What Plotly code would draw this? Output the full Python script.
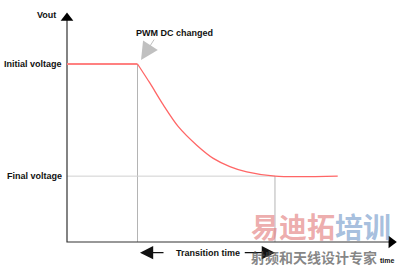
import plotly.graph_objects as go

# ---- data (arbitrary units: time, voltage) ----
t_change = 1.0          # PWM duty cycle change
t_settle = 2.95         # end of transition
t_end = 3.84            # end of plotted signal
v_initial = 5.0
v_final = 1.85

t_flat = [0.0, t_change]
v_flat = [v_initial, v_initial]
t_curve = [1.0, 1.177, 1.366, 1.579, 1.84, 2.075, 2.31, 2.55, 2.95, 3.84]
v_curve = [5.0, 4.46, 3.85, 3.24, 2.72, 2.35, 2.12, 1.97, 1.85, 1.85]

x_axis_end = 4.68
y_axis_end = 6.46

FONT = "Liberation Sans, Arial, sans-serif"
CJK = "Noto Sans CJK SC"
GRAY = "#b4b4b4"
RED = "#ff6666"

fig = go.Figure()

# guide lines
fig.add_trace(go.Scatter(x=[t_change, t_change], y=[0, v_initial], mode="lines",
                         line=dict(color=GRAY, width=1), hoverinfo="skip"))
fig.add_trace(go.Scatter(x=[0, t_settle], y=[v_final, v_final], mode="lines",
                         line=dict(color="#d0d0d0", width=1), hoverinfo="skip"))
fig.add_trace(go.Scatter(x=[t_settle, t_settle], y=[0, v_final], mode="lines",
                         line=dict(color=GRAY, width=1), hoverinfo="skip"))

# axes
fig.add_trace(go.Scatter(x=[0, 0, x_axis_end - 0.1], y=[y_axis_end - 0.2, 0, 0], mode="lines",
                         line=dict(color="#333333", width=1.2), hoverinfo="skip"))
fig.add_trace(go.Scatter(x=[0], y=[y_axis_end - 0.17], mode="markers",
                         marker=dict(symbol="triangle-up", size=11, color="#000000"),
                         hoverinfo="skip"))
fig.add_trace(go.Scatter(x=[x_axis_end - 0.08], y=[0], mode="markers",
                         marker=dict(symbol="triangle-right", size=11, color="#000000"),
                         hoverinfo="skip"))

# signal
fig.add_trace(go.Scatter(x=t_flat, y=v_flat, mode="lines",
                         line=dict(color="#ff8080", width=2), hoverinfo="skip"))
fig.add_trace(go.Scatter(x=t_curve, y=v_curve, mode="lines",
                         line=dict(color=RED, width=1.3, shape="spline", smoothing=0.8),
                         hoverinfo="skip"))

ann = []
# PWM arrow
ann.append(dict(x=1.05, y=5.11, ax=1.25, ay=5.73, xref="x", yref="y", axref="x", ayref="y",
                text="", showarrow=True, arrowhead=2, arrowsize=3.5, arrowwidth=1,
                arrowcolor="#c0c0c0"))
# transition arrows
ann.append(dict(x=1.035, y=-0.30, ax=1.39, ay=-0.30, xref="x", yref="y", axref="x", ayref="y",
                text="", showarrow=True, arrowhead=2, arrowsize=2.2, arrowwidth=1.2,
                arrowcolor="#111111"))
ann.append(dict(x=2.95, y=-0.30, ax=2.50, ay=-0.30, xref="x", yref="y", axref="x", ayref="y",
                text="", showarrow=True, arrowhead=2, arrowsize=2.2, arrowwidth=1.2,
                arrowcolor="#111111"))

def label(text, x, y, anchor, size=9):
    return dict(x=x, y=y, xref="x", yref="y", text="<b>%s</b>" % text, showarrow=False,
                xanchor=anchor, yanchor="middle", font=dict(family=FONT, size=size, color="#111111"))

ann.append(label("Vout", -0.13, 6.38, "right"))
ann.append(label("Initial voltage", -0.04, v_initial, "right"))
ann.append(label("Final voltage", -0.04, v_final, "right"))
ann.append(label("PWM DC changed", 0.95, 5.87, "left"))
ann.append(label("Transition time", 2.0, -0.30, "center"))
ann.append(label("time", 4.68, -0.52, "right", size=7))

# watermark
ann.append(dict(x=249/404, y=1-226/266, xref="paper", yref="paper", xanchor="left", yanchor="middle",
                showarrow=False,
                text="<b><span style='color:rgba(225,120,120,0.62)'>易迪拓</span><span style='color:rgba(110,150,200,0.62)'>培训</span></b>",
                font=dict(family=CJK, size=28, weight="bold")))
ann.append(dict(x=249/404, y=1-257/266, xref="paper", yref="paper", xanchor="left", yanchor="middle",
                showarrow=False, text="<b>射频和天线设计专家</b>",
                font=dict(family=CJK, size=14, color="rgba(80,80,80,0.7)", weight="bold")))

fig.update_layout(
    width=404, height=266,
    margin=dict(l=0, r=0, t=0, b=0),
    paper_bgcolor="white", plot_bgcolor="white",
    showlegend=False,
    annotations=ann,
    xaxis=dict(range=[-67/70.5, 337/70.5], visible=False, fixedrange=True),
    yaxis=dict(range=[-24/35.6, 242/35.6], visible=False, fixedrange=True),
)

fig.write_html("out.html", config={"displayModeBar": False})
